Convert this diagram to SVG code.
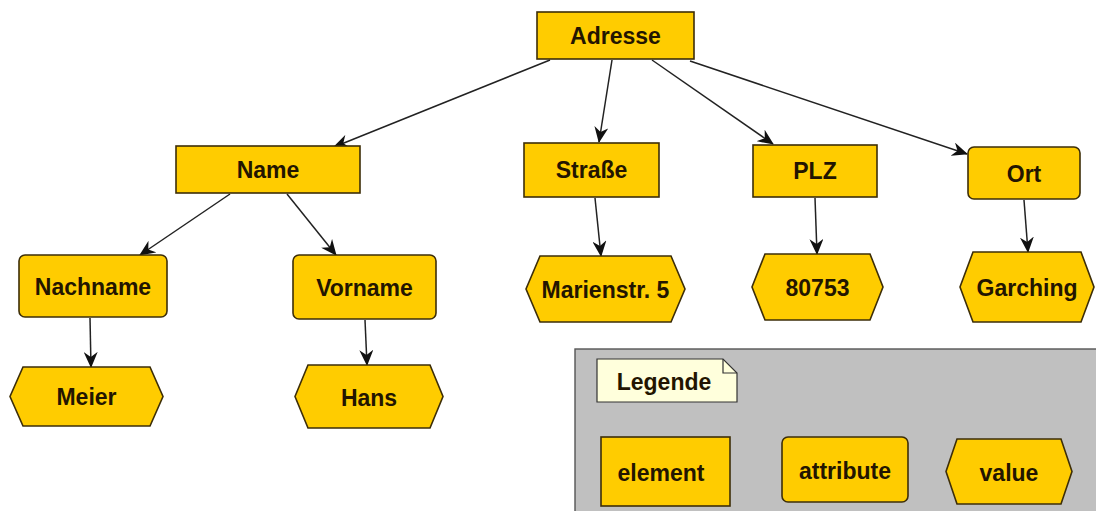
<svg xmlns="http://www.w3.org/2000/svg" width="1096" height="511" viewBox="0 0 1096 511">
  <style>
    .el { fill: #FFCC00; stroke: #3d2e08; stroke-width: 1.6; }
    .lbl { font-family: "Liberation Sans", Arial, sans-serif; font-size: 23px; font-weight: bold; fill: #231500; text-anchor: middle; dominant-baseline: central; }
    .edge { stroke: #222; stroke-width: 1.5; fill: none; marker-end: url(#arrow); }
  </style>
  <defs>
    <marker id="arrow" viewBox="0 0 16 14" refX="15" refY="7" markerWidth="16" markerHeight="14" markerUnits="userSpaceOnUse" orient="auto">
      <path d="M0,0 L16,7 L0,14 L5,7 z" fill="#111"/>
    </marker>
  </defs>
  <rect width="1096" height="511" fill="#ffffff"/>

  <!-- tree edges -->
  <g id="connectors">
    <line class="edge" x1="550" y1="60" x2="334" y2="147"/>
    <line class="edge" x1="612" y1="60" x2="599" y2="142"/>
    <line class="edge" x1="652" y1="60" x2="773" y2="144"/>
    <line class="edge" x1="690" y1="61" x2="967" y2="154"/>
    <line class="edge" x1="230" y1="194" x2="140" y2="255"/>
    <line class="edge" x1="287" y1="194" x2="336" y2="255"/>
    <line class="edge" x1="90" y1="318" x2="91" y2="367"/>
    <line class="edge" x1="365" y1="320" x2="367" y2="365"/>
    <line class="edge" x1="595" y1="198" x2="601" y2="256"/>
    <line class="edge" x1="815" y1="198" x2="817" y2="254"/>
    <line class="edge" x1="1024" y1="200" x2="1028" y2="252"/>
  </g>

  <!-- elements -->
  <g id="adresse">
    <rect class="el" x="537" y="12" width="157" height="47"/>
    <text class="lbl" x="615.5" y="36">Adresse</text>
  </g>
  <g id="name">
    <rect class="el" x="176" y="146" width="184" height="47"/>
    <text class="lbl" x="268" y="170">Name</text>
  </g>
  <g id="strasse">
    <rect class="el" x="524" y="143" width="135" height="54"/>
    <text class="lbl" x="591.5" y="170">Straße</text>
  </g>
  <g id="plz">
    <rect class="el" x="753" y="145" width="124" height="52"/>
    <text class="lbl" x="815" y="171">PLZ</text>
  </g>

  <!-- attributes -->
  <g id="ort">
    <rect class="el" x="968" y="147" width="112" height="52" rx="6"/>
    <text class="lbl" x="1024" y="174">Ort</text>
  </g>
  <g id="nachname">
    <rect class="el" x="19" y="255" width="148" height="62" rx="6"/>
    <text class="lbl" x="93" y="287">Nachname</text>
  </g>
  <g id="vorname">
    <rect class="el" x="293" y="255" width="143" height="64" rx="6"/>
    <text class="lbl" x="364.5" y="288">Vorname</text>
  </g>

  <!-- values -->
  <g id="meier">
    <polygon class="el" points="23,367 150,367 163,396.5 150,426 23,426 10,396.5"/>
    <text class="lbl" x="86.5" y="397">Meier</text>
  </g>
  <g id="hans">
    <polygon class="el" points="308,365 430,365 443,396.5 430,428 308,428 295,396.5"/>
    <text class="lbl" x="369" y="398">Hans</text>
  </g>
  <g id="marienstr">
    <polygon class="el" points="540,256 671,256 685,289 671,322 540,322 526,289"/>
    <text class="lbl" x="605.5" y="290">Marienstr. 5</text>
  </g>
  <g id="plz-wert">
    <polygon class="el" points="765,254 870,254 883,287 870,320 765,320 752,287"/>
    <text class="lbl" x="817.5" y="288">80753</text>
  </g>
  <g id="garching">
    <polygon class="el" points="973,252 1081,252 1094,287 1081,322 973,322 960,287"/>
    <text class="lbl" x="1027" y="288">Garching</text>
  </g>

  <!-- legend panel -->
  <g id="legende">
    <rect x="575" y="349" width="530" height="170" fill="#C0C0C0" stroke="#555" stroke-width="1.4"/>
    <path d="M597,359 L723,359 L737,373 L737,402 L597,402 Z" fill="#FFFFDC" stroke="#333" stroke-width="1.2"/>
    <path d="M723,359 L723,373 L737,373" fill="none" stroke="#333" stroke-width="1.2"/>
    <text class="lbl" x="664" y="382" fill="#111">Legende</text>
  </g>
  <g id="legend-element">
    <rect class="el" x="601" y="437" width="129" height="69"/>
    <text class="lbl" x="661" y="473">element</text>
  </g>
  <g id="legend-attribute">
    <rect class="el" x="782" y="437" width="126" height="65" rx="6"/>
    <text class="lbl" x="845" y="471">attribute</text>
  </g>
  <g id="legend-value">
    <polygon class="el" points="957,439 1061,439 1072,471.5 1061,504 957,504 946,471.5"/>
    <text class="lbl" x="1009" y="473">value</text>
  </g>
</svg>
